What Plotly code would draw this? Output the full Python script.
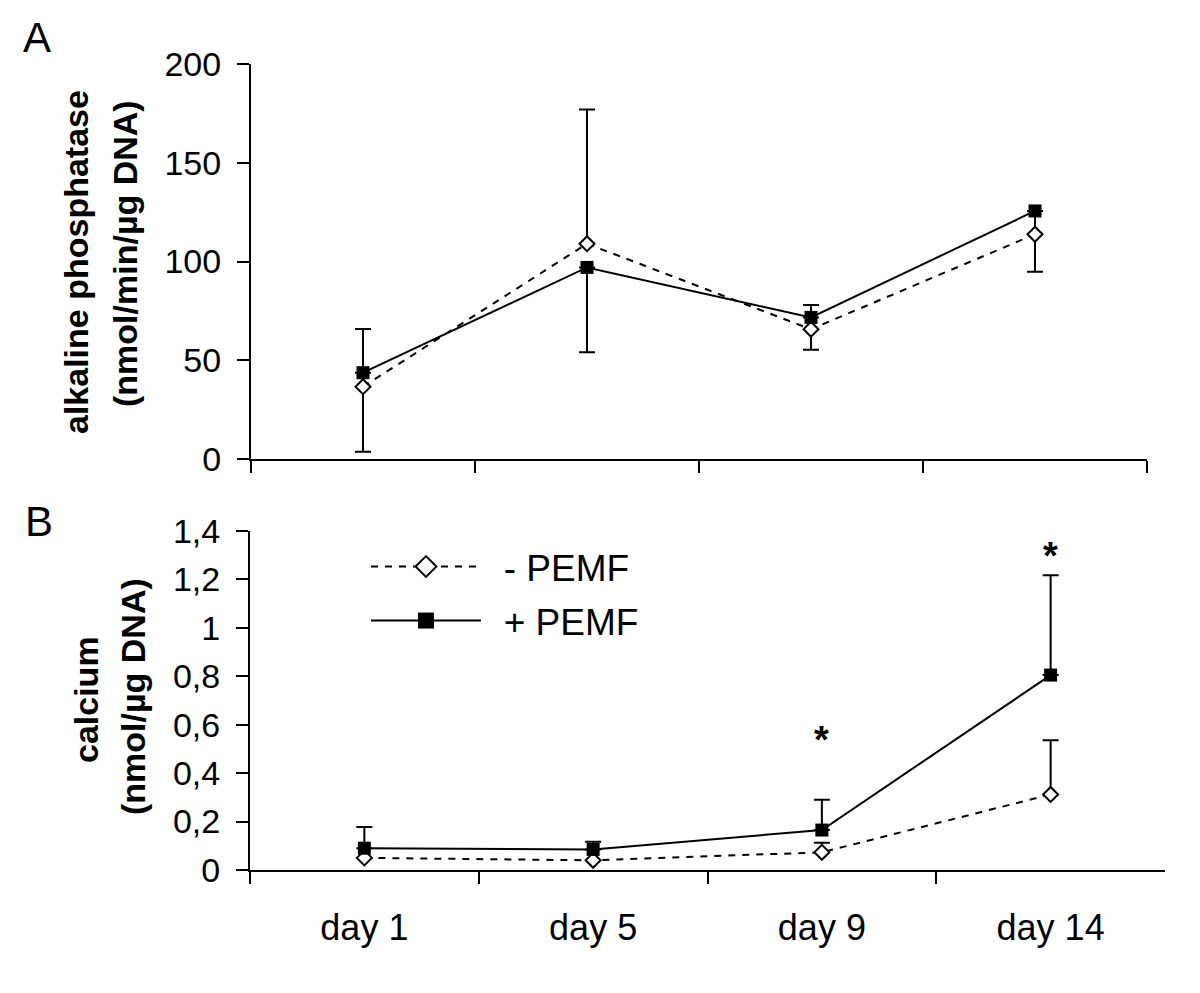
import plotly.graph_objects as go

days = ["day 1", "day 5", "day 9", "day 14"]

# panel A - alkaline phosphatase
alp_minus = [36.6, 109, 65.7, 113.8]
alp_minus_err_up = [29.2, 68, 12.3, 11.8]
alp_plus = [43.7, 97, 71.7, 125.6]
alp_plus_err_down = [40, 43, 16.4, 30.8]

# panel B - calcium
ca_minus = [0.05, 0.04, 0.073, 0.312]
ca_minus_err_up = [None, None, 0.04, 0.224]
ca_plus = [0.09, 0.085, 0.165, 0.805]
ca_plus_err_up = [0.088, 0.032, 0.125, 0.412]

ca_ticks = [0, 0.2, 0.4, 0.6, 0.8, 1, 1.2, 1.4]
ca_ticktext = ["0", "0,2", "0,4", "0,6", "0,8", "1", "1,2", "1,4"]

star_days = ["day 9", "day 14"]
star_y = [0.535, 1.295]

FONT = "Liberation Sans, Arial, sans-serif"
# page body has an 8px margin, so the figure is 8px smaller and positions are shifted
OFF = 8
W, H = 1200 - OFF, 993 - OFF


def px(x):
    return (x - OFF) / W


def py(y):
    return 1 - (y - OFF) / H


fig = go.Figure()

dash = "7px,7px"
diamond = dict(symbol="diamond", size=11.5, color="white", line=dict(color="black", width=2))
square = dict(symbol="square", size=13, color="black", line=dict(color="black", width=0))


def err_trace(y, xa, ya, up=None, down=None):
    return go.Scatter(
        x=days, y=y, mode="markers", marker=dict(size=1, opacity=0),
        error_y=dict(type="data", symmetric=False,
                     array=up if up is not None else [0] * len(y),
                     arrayminus=down if down is not None else [0] * len(y),
                     color="black", thickness=2, width=8),
        xaxis=xa, yaxis=ya, showlegend=False, hoverinfo="skip")


# error bars first, markers on top
fig.add_trace(err_trace(alp_minus, "x", "y", up=alp_minus_err_up))
fig.add_trace(err_trace(alp_plus, "x", "y", down=alp_plus_err_down))
fig.add_trace(err_trace(ca_minus, "x2", "y2", up=ca_minus_err_up))
fig.add_trace(err_trace(ca_plus, "x2", "y2", up=ca_plus_err_up))

fig.add_trace(go.Scatter(x=days, y=alp_minus, mode="lines+markers", marker=diamond,
                         line=dict(color="black", width=2, dash=dash), showlegend=False))
fig.add_trace(go.Scatter(x=days, y=alp_plus, mode="lines+markers", marker=square,
                         line=dict(color="black", width=2), showlegend=False))
fig.add_trace(go.Scatter(x=days, y=ca_minus, mode="lines+markers", marker=diamond,
                         line=dict(color="black", width=2, dash=dash), showlegend=False,
                         xaxis="x2", yaxis="y2"))
fig.add_trace(go.Scatter(x=days, y=ca_plus, mode="lines+markers", marker=square,
                         line=dict(color="black", width=2), showlegend=False,
                         xaxis="x2", yaxis="y2"))

# legend entries (bigger symbols like the original)
fig.add_trace(go.Scatter(x=[None], y=[None], mode="lines+markers", name="\u00a0\u2009- PEMF",
                         marker=dict(symbol="diamond", size=18, color="white",
                                     line=dict(color="black", width=2)),
                         line=dict(color="black", width=2, dash=dash),
                         xaxis="x2", yaxis="y2", legend="legend"))
fig.add_trace(go.Scatter(x=[None], y=[None], mode="lines+markers", name="\u00a0\u2009+ PEMF",
                         marker=dict(symbol="square", size=19, color="black"),
                         line=dict(color="black", width=2),
                         xaxis="x2", yaxis="y2", legend="legend2"))

axis_common = dict(showline=True, linecolor="black", linewidth=2, ticks="outside",
                   ticklen=12, tickwidth=2, tickcolor="black", showgrid=False,
                   zeroline=False, automargin=False,
                   tickfont=dict(family=FONT, size=34, color="black"))

legend_common = dict(xanchor="left", yanchor="middle", bgcolor="rgba(0,0,0,0)",
                     itemwidth=110, font=dict(family=FONT, size=37, color="black"))

fig.update_layout(
    width=W, height=H,
    margin=dict(l=0, r=0, t=0, b=0, autoexpand=False),
    paper_bgcolor="white", plot_bgcolor="white",
    font=dict(family=FONT, color="black"),
    xaxis=dict(axis_common, domain=[px(251), px(1147)], anchor="y",
               type="category", categoryorder="array", categoryarray=days,
               range=[-0.5, 3.5], tickson="boundaries", showticklabels=False),
    yaxis=dict(axis_common, domain=[py(459), py(64)], anchor="x",
               range=[0, 200], tickvals=[0, 50, 100, 150, 200], ticklabelstandoff=9),
    xaxis2=dict(axis_common, domain=[px(250), px(1165)], anchor="y2",
                type="category", categoryorder="array", categoryarray=days,
                range=[-0.5, 3.5], tickson="boundaries", ticklabelstandoff=25,
                tickfont=dict(family=FONT, size=36, color="black")),
    yaxis2=dict(axis_common, domain=[py(870), py(531)], anchor="x2",
                range=[0, 1.4], tickvals=ca_ticks, ticktext=ca_ticktext,
                ticklabelstandoff=9),
    legend=dict(legend_common, x=px(366), y=py(567)),
    legend2=dict(legend_common, x=px(366), y=py(621)),
)

title_font = dict(family=FONT, size=34, color="black")
for txt, xp, yp in [("<b>alkaline phosphatase</b>", 76, 262),
                    ("<b>(nmol/min/µg DNA)</b>", 125, 254),
                    ("<b>calcium</b>", 86, 700),
                    ("<b>(nmol/µg DNA)</b>", 133, 697)]:
    fig.add_annotation(text=txt, x=px(xp), y=py(yp), xref="paper", yref="paper",
                       textangle=-90, showarrow=False, font=title_font,
                       xanchor="center", yanchor="middle")

for letter, xp, yp in [("A", 37, 37), ("B", 39, 521)]:
    fig.add_annotation(text=letter, x=px(xp), y=py(yp), xref="paper", yref="paper",
                       xanchor="center", yanchor="middle", showarrow=False,
                       font=dict(family=FONT, size=42, color="black"))

for d, yv in zip(star_days, star_y):
    fig.add_annotation(text="<b>*</b>", x=d, y=yv, xref="x2", yref="y2", showarrow=False,
                       xanchor="center", yanchor="middle",
                       font=dict(family=FONT, size=38, color="black"))

fig.write_html("out.html")
